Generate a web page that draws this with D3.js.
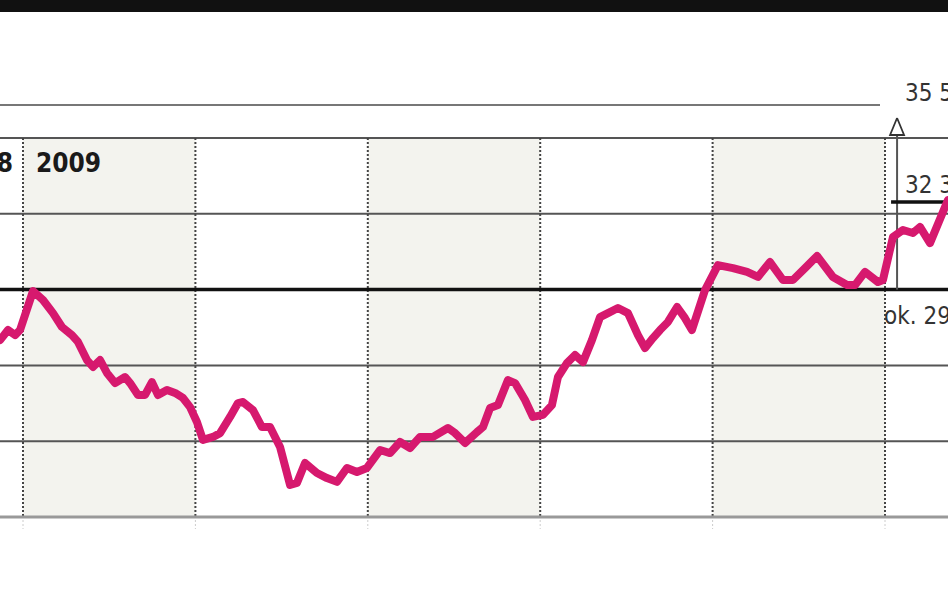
<!DOCTYPE html>
<html>
<head>
<meta charset="utf-8">
<script src="https://cdn.jsdelivr.net/npm/d3@7"></script>
<style>
  html, body { margin: 0; padding: 0; background: #fff; }
  svg { display: block; }
</style>
</head>
<body>
<div id="chart"></div>
<script>
// ---- data ----
// month positions (0 = start of Jan 2009, 1 = Feb, ...)
const monthPos = [-0.133,-0.087,-0.046,-0.017,0.058,0.116,0.174,0.226,0.284,0.319,
  0.371,0.406,0.447,0.487,0.534,0.592,0.621,0.667,0.708,0.748,
  0.783,0.835,0.882,0.928,0.969,1.009,1.044,1.102,1.143,1.201,
  1.247,1.276,1.334,1.386,1.433,1.491,1.549,1.589,1.636,1.705,
  1.763,1.821,1.879,1.937,1.995,2.071,2.129,2.187,2.245,2.303,
  2.378,2.465,2.506,2.564,2.633,2.668,2.709,2.755,2.813,2.854,
  2.912,2.958,3.016,3.068,3.103,3.155,3.202,3.248,3.300,3.347,
  3.393,3.451,3.509,3.567,3.608,3.654,3.695,3.741,3.794,3.840,
  3.880,3.956,4.031,4.118,4.200,4.263,4.333,4.408,4.466,4.536,
  4.606,4.698,4.780,4.826,4.884,4.959,4.988,5.046,5.104,5.162,
  5.203,5.261,5.365];
const price = [27.00,27.40,27.20,27.40,28.94,28.59,28.07,27.52,27.20,26.93,
  26.21,25.94,26.21,25.70,25.30,25.54,25.30,24.83,24.83,25.34,
  24.83,25.03,24.91,24.71,24.35,23.76,23.05,23.17,23.32,23.96,
  24.51,24.55,24.23,23.56,23.56,22.77,21.27,21.35,22.14,21.74,
  21.54,21.39,21.94,21.78,21.94,22.65,22.53,22.97,22.73,23.17,
  23.17,23.52,23.32,22.93,23.36,23.56,24.31,24.43,25.42,25.30,
  24.63,23.96,24.04,24.43,25.54,26.09,26.41,26.13,27.00,27.91,
  28.07,28.27,28.07,27.20,26.69,27.08,27.40,27.72,28.31,27.87,
  27.40,28.98,29.97,29.85,29.70,29.50,30.09,29.38,29.38,29.85,
  30.33,29.50,29.18,29.18,29.70,29.30,29.38,31.08,31.36,31.24,
  31.48,30.84,32.54];
const monthTicks = [0,1,2,3,4,5];
const shadedMonths = [0,2,4];
const yearLabels = [{pos:0, text:"2008", side:"left"}, {pos:0, text:"2009", side:"right"}];
const yTicks = [20,23,26,29,32,35];
const refLevel = 29;       // "ok. 29"
const currentLevel = 32.47; // "32 3"
const annotPos = 5.07;
const labels = {target:"35 5", current:"32 3", ref:"ok. 29"};

// ---- layout ----
const W = 948, H = 593;
const x = d3.scaleLinear().domain([0,5]).range([23,885]);
const y = d3.scaleLinear().domain([20,35]).range([517,138]);
const font = "'DejaVu Sans',sans-serif";

const svg = d3.select("#chart").append("svg").attr("width", W).attr("height", H);

// top black band
svg.append("rect").attr("x",0).attr("y",0).attr("width",W).attr("height",12).attr("fill","#111");

// shaded month bands
svg.selectAll("rect.band").data(shadedMonths).join("rect")
  .attr("class","band")
  .attr("x", d => x(d)).attr("y", y(35))
  .attr("width", d => x(d+1)-x(d)).attr("height", y(20)-y(35))
  .attr("fill","#f3f3ee");

// horizontal grid
svg.selectAll("line.grid").data(yTicks.filter(t => t!==refLevel && t!==20)).join("line")
  .attr("class","grid")
  .attr("x1",0).attr("x2",W)
  .attr("y1", d => y(d)).attr("y2", d => y(d))
  .attr("stroke","#555").attr("stroke-width",2);

// vertical dotted month lines
svg.selectAll("line.vgrid").data(monthTicks).join("line")
  .attr("class","vgrid")
  .attr("x1", d => x(d)).attr("x2", d => x(d))
  .attr("y1", y(35)).attr("y2", y(20))
  .attr("stroke","#444").attr("stroke-width",2).attr("stroke-dasharray","2,2");
svg.selectAll("line.vtick").data(monthTicks).join("line")
  .attr("class","vtick")
  .attr("x1", d => x(d)).attr("x2", d => x(d))
  .attr("y1", y(20)+3).attr("y2", y(20)+12)
  .attr("stroke","#ccc").attr("stroke-width",1).attr("stroke-dasharray","2,2");

// bottom axis line
svg.append("line").attr("x1",0).attr("x2",W).attr("y1",y(20)).attr("y2",y(20))
  .attr("stroke","#999").attr("stroke-width",3);

// thick reference line at ~29
svg.append("line").attr("x1",0).attr("x2",W).attr("y1",y(refLevel)).attr("y2",y(refLevel))
  .attr("stroke","#111").attr("stroke-width",3.5);

// year labels
svg.selectAll("text.year").data(yearLabels).join("text")
  .attr("class","year")
  .attr("x", d => d.side==="left" ? x(d.pos)-10 : x(d.pos)+13)
  .attr("y", 172)
  .attr("text-anchor", d => d.side==="left" ? "end" : "start")
  .attr("font-family", font).attr("font-stretch","condensed")
  .attr("font-weight","bold").attr("font-size",26)
  .attr("fill","#1a1a1a")
  .text(d => d.text);

// target leader line & label
svg.append("line").attr("x1",0).attr("x2",880).attr("y1",105).attr("y2",105)
  .attr("stroke","#777").attr("stroke-width",2);
svg.append("text").attr("x",905).attr("y",101)
  .attr("font-family",font).attr("font-stretch","condensed")
  .attr("font-size",24).attr("fill","#333").text(labels.target);

// annotation vertical line + arrow
const ax = x(annotPos);
svg.append("line").attr("x1",ax).attr("x2",ax).attr("y1",132).attr("y2",y(refLevel))
  .attr("stroke","#555").attr("stroke-width",2);
svg.append("path")
  .attr("d", d3.line()([[ax,118],[ax+7,135],[ax-7,135],[ax,118]]))
  .attr("fill","#fff").attr("stroke","#333").attr("stroke-width",1.8);

// current level short line & label
svg.append("line").attr("x1",ax-6).attr("x2",W).attr("y1",y(currentLevel)).attr("y2",y(currentLevel))
  .attr("stroke","#111").attr("stroke-width",3.5);
svg.append("text").attr("x",905).attr("y",193)
  .attr("font-family",font).attr("font-stretch","condensed")
  .attr("font-size",24).attr("fill","#333").text(labels.current);

// ref label
svg.append("text").attr("x",884).attr("y",324)
  .attr("font-family",font).attr("font-stretch","condensed")
  .attr("font-size",24).attr("fill","#333").text(labels.ref);

// price line
const pts = monthPos.map((m,i) => [m, price[i]]);
svg.append("path").datum(pts)
  .attr("d", d3.line().x(d => x(d[0])).y(d => y(d[1])))
  .attr("fill","none").attr("stroke","#d6196e").attr("stroke-width",8)
  .attr("stroke-linejoin","round").attr("stroke-linecap","round");
</script>
</body>
</html>
